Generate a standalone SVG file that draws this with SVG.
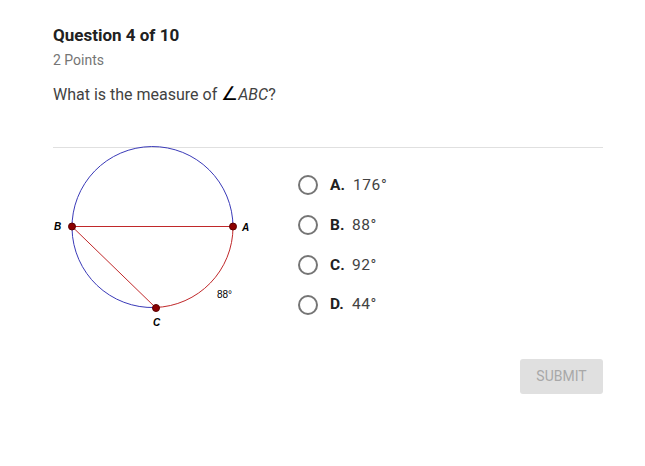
<svg xmlns="http://www.w3.org/2000/svg" width="645" height="466" viewBox="0 0 645 466">
<style>
.t{font-family:Roboto,"Liberation Sans",sans-serif}
.radio{fill:none;stroke:#757575;stroke-width:2}
.lbl{font-family:Roboto,"Liberation Sans",sans-serif;font-size:15.5px;font-weight:bold;fill:#212121}
.val{font-family:Roboto,"Liberation Sans",sans-serif;font-size:15.5px;fill:#424242;letter-spacing:0.6px}
.pt{fill:#8b0000;stroke:#5a0000;stroke-width:1}
.plbl{font-family:"Liberation Sans",Arial,sans-serif;font-size:10px;font-weight:bold;font-style:italic;fill:#000}
</style>
<rect width="645" height="466" fill="#fff"/>
<text class="t" x="53" y="41" font-size="17" font-weight="bold" fill="#212121">Question 4 of 10</text>
<text class="t" x="53" y="65" font-size="14" fill="#757575">2 Points</text>
<text class="t" x="53" y="100" font-size="16" fill="#424242">What is the measure of <tspan fill="#000" font-size="19">∠</tspan><tspan font-style="italic">ABC</tspan>?</text>
<line x1="53" y1="147.5" x2="603" y2="147.5" stroke="#e0e0e0" stroke-width="1"/>
<g id="figure">
<path d="M233 227 A80.5 80.5 0 1 0 155 307.5" fill="none" stroke="#3a3ab8" stroke-width="1"/>
<path d="M233 227 A80.5 80.5 0 0 1 155 307.5" fill="none" stroke="#c0282a" stroke-width="1"/>
<line x1="72" y1="226.5" x2="233" y2="226.5" stroke="#c0282a" stroke-width="1"/>
<line x1="72" y1="226.5" x2="156" y2="308" stroke="#c0282a" stroke-width="1"/>
<circle class="pt" cx="72" cy="226.5" r="3.5"/>
<circle class="pt" cx="233" cy="226.5" r="3.5"/>
<circle class="pt" cx="156" cy="308" r="3.5"/>
<text class="plbl" x="54" y="230">B</text>
<text class="plbl" x="242" y="231">A</text>
<text class="plbl" x="153" y="326">C</text>
<text x="217" y="298" font-family="'Liberation Sans',Arial,sans-serif" font-size="10" fill="#000">88°</text>
</g>
<g id="optA"><circle class="radio" cx="308" cy="185" r="9"/><text class="lbl" x="330" y="190">A.</text><text class="val" x="353" y="190">176°</text></g>
<g id="optB"><circle class="radio" cx="308" cy="225" r="9"/><text class="lbl" x="330" y="230">B.</text><text class="val" x="352" y="230">88°</text></g>
<g id="optC"><circle class="radio" cx="308" cy="265" r="9"/><text class="lbl" x="330" y="270">C.</text><text class="val" x="352" y="270">92°</text></g>
<g id="optD"><circle class="radio" cx="308" cy="305" r="9"/><text class="lbl" x="330" y="309">D.</text><text class="val" x="352" y="309">44°</text></g>
<g id="submit"><rect x="520" y="359" width="83" height="35" rx="3" fill="#e0e0e0"/><text class="t" x="561.5" y="381" font-size="14" fill="#a8a8a8" text-anchor="middle">SUBMIT</text></g>
</svg>
